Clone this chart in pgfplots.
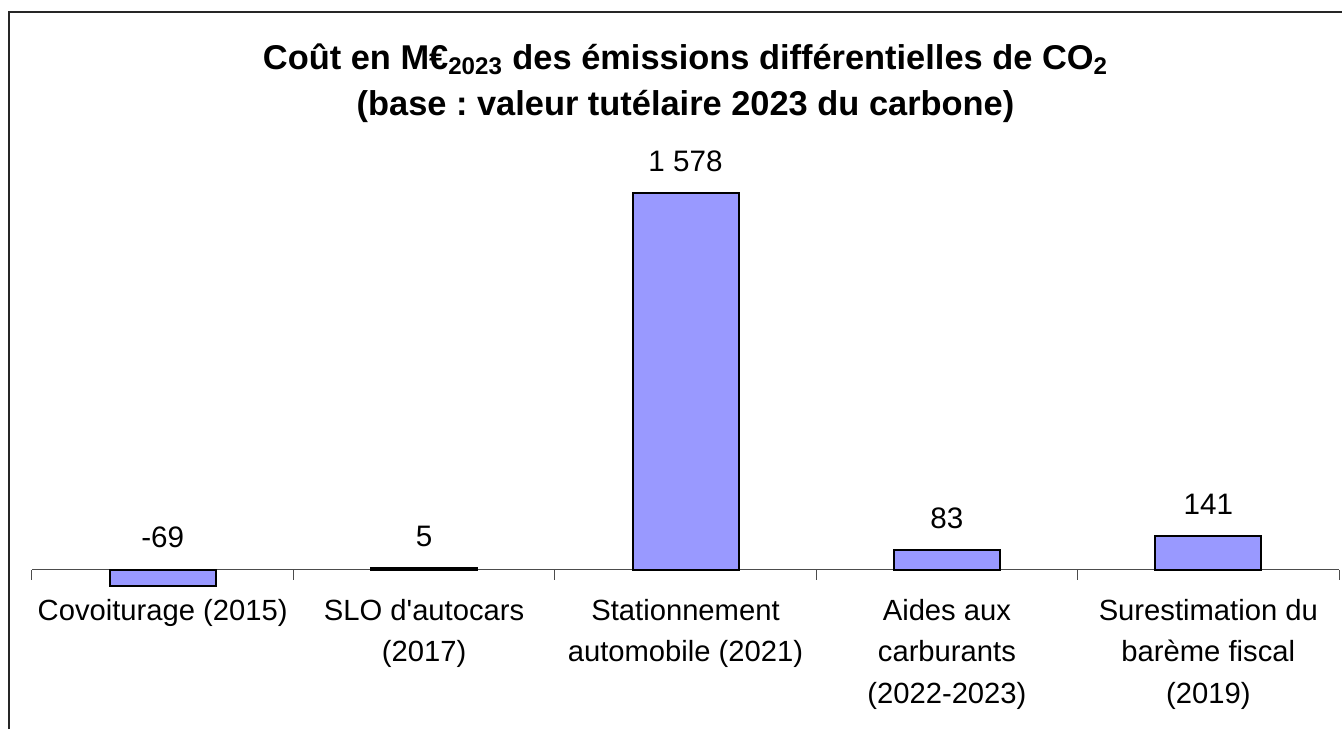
\documentclass[border=0pt]{standalone}
\usepackage{fontspec}
\setmainfont{Liberation Sans}
\usepackage{pgfplots}
\pgfplotsset{compat=1.18}
\definecolor{barblue}{HTML}{9999FF}
\frenchspacing
\begin{document}
\begin{tikzpicture}
\useasboundingbox (-16pt,-71.5pt) rectangle (655pt,293pt);
\draw[line width=0.6pt, black!85] (-11.5pt,-71.5pt) -- (-11.5pt,287pt) -- (655pt,287pt);
\begin{axis}[
  at={(0pt,0pt)}, anchor=south west,
  scale only axis, width=653.5pt, height=196.5pt,
  xmin=-0.5, xmax=4.5, ymin=-69, ymax=1578,
  axis x line=middle, axis y line=none,
  hide obscured x ticks=false,
  x axis line style={-, black!70, line width=0.5pt},
  xtick={0,1,2,3,4},
  xticklabels={{Covoiturage (2015)},{SLO d\textquotesingle autocars\\(2017)},{Stationnement\\automobile (2021)},{Aides aux\\carburants\\(2022-2023)},{Surestimation du\\barème fiscal\\(2019)}},
  major tick length=0pt,
  minor xtick={-0.5,0.5,1.5,2.5,3.5,4.5},
  minor tick length=5pt,
  tick align=outside,
  minor tick style={black!70, line width=0.5pt},
  xticklabel style={align=center, font=\fontsize{14.6}{20.6}\selectfont, anchor=north, yshift=-11.5pt},
  clip=false,
]
\addplot[ybar, bar width=53pt, bar shift=0pt, fill=barblue, draw=black, line width=1pt]
  coordinates {(0,-69) (1,5) (2,1578) (3,83) (4,141)};
\addplot[draw=none, mark=none, nodes near coords, point meta=explicit symbolic,
  nodes near coords style={anchor=south, inner sep=0pt, yshift=10.5pt, font=\fontsize{14.8}{17}\selectfont}]
  coordinates {(0,0) [-69] (1,5) [5] (2,1578) [1 578] (3,83) [83] (4,141) [141]};
\end{axis}
\node[anchor=base, font=\fontsize{17.2}{20}\selectfont\bfseries] at (326.75pt,258.25pt) {Coût en M€\textsubscript{2023} des émissions différentielles de CO\textsubscript{2}};
\node[anchor=base, font=\fontsize{17.2}{20}\selectfont\bfseries] at (326.75pt,235.25pt) {(base : valeur tutélaire 2023 du carbone)};
\end{tikzpicture}
\end{document}
